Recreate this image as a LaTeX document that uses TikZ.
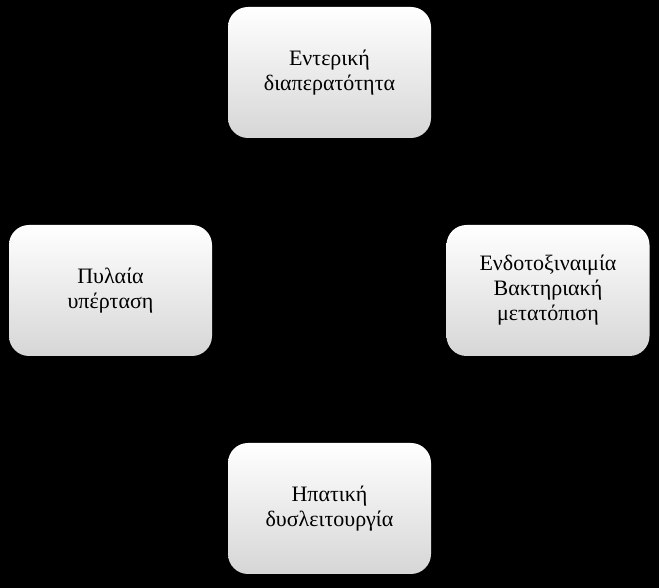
\documentclass[tikz,border=0pt]{standalone}
\usepackage{fontspec}
\setmainfont{Liberation Serif}
\begin{document}
\begin{tikzpicture}[x=1pt,y=1pt,
  box/.style={rounded corners=20pt,top color=white,bottom color=black!16,minimum width=203pt,minimum height=131pt,align=center,font=\fontsize{22}{25}\selectfont,inner sep=0pt}]
\fill[black] (0,0) rectangle (659,588);
\useasboundingbox (0,0) rectangle (659,588);
\node[box] (top) at (329.5,515.5) {Εντερική\\διαπερατότητα};
\node[box] (left) at (110.5,297.5) {Πυλαία\\υπέρταση};
\node[box] (right) at (548,297.5) {Ενδοτοξιναιμία\\Βακτηριακή\\μετατόπιση};
\node[box] (bottom) at (329.5,79.5) {Ηπατική\\δυσλειτουργία};
\end{tikzpicture}
\end{document}
